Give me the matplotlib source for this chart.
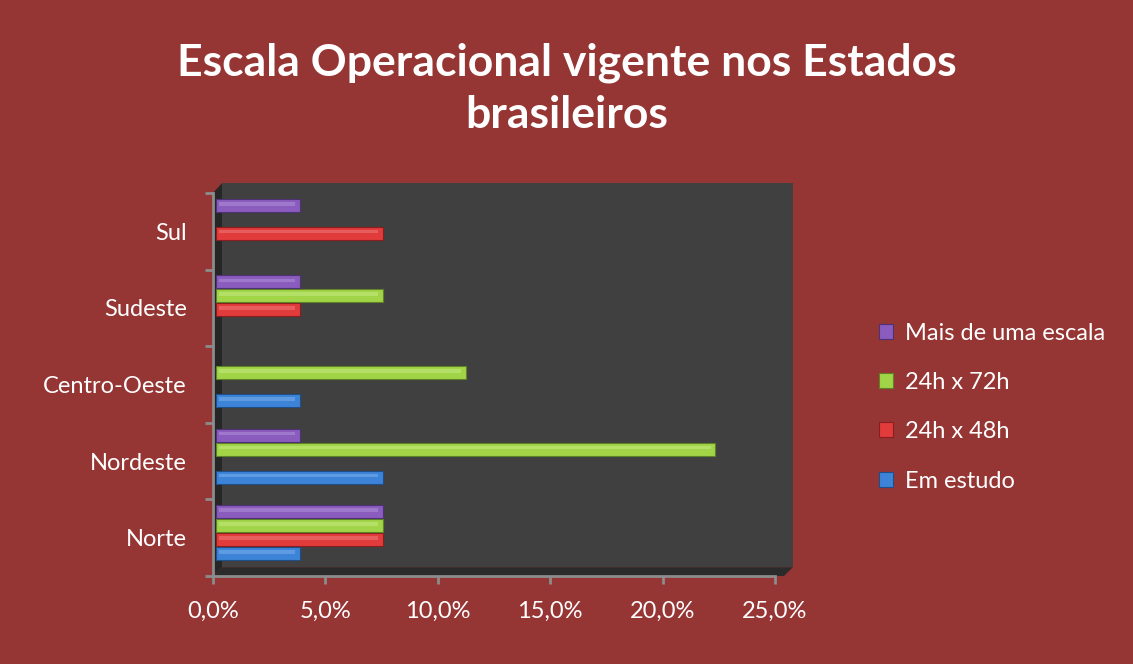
import matplotlib.pyplot as plt
from matplotlib.patches import Polygon
from matplotlib.ticker import FuncFormatter, FixedLocator

# Dados (percentual dos estados)
regioes = ['Norte', 'Nordeste', 'Centro-Oeste', 'Sudeste', 'Sul']
series = ['Em estudo', '24h x 48h', '24h x 72h', 'Mais de uma escala']
em_estudo = [3.7, 7.4, 3.7, 0, 0]
h24x48 = [7.4, 0, 0, 3.7, 7.4]
h24x72 = [7.4, 22.2, 11.1, 7.4, 0]
mais_de_uma = [7.4, 3.7, 0, 3.7, 3.7]
xticks = [0, 5, 10, 15, 20, 25]

valores = [em_estudo, h24x48, h24x72, mais_de_uma]
cores = ['#3d84d8', '#e13b3b', '#a2d448', '#8a5cbd']
bordas = ['#1f4f88', '#8a1e1e', '#5f8226', '#4f3175']
brilho = ['#7fb3ee', '#f08080', '#c8ec86', '#b394d9']

fundo = '#963634'
plt.rcParams['font.family'] = ['Lato', 'DejaVu Sans']

fig = plt.figure(figsize=(11.33, 6.64), dpi=100, facecolor=fundo)
ax = fig.add_axes([0.188, 0.1325, 0.496, 0.577])
ax.set_facecolor('none')

# paredes 3D
dx, dy = 0.016, 0.023
ax.add_patch(Polygon([(dx, dy), (1 + dx * 2, dy), (1 + dx * 2, 1 + dy * 1.1), (dx, 1 + dy * 1.1)],
                     closed=True, transform=ax.transAxes, facecolor='#404040', edgecolor='none',
                     clip_on=False, zorder=0))
ax.add_patch(Polygon([(0, 0), (1 + dx, 0), (1 + dx * 2, dy), (dx, dy)], closed=True,
                     transform=ax.transAxes, facecolor='#2b2b2b', edgecolor='none',
                     clip_on=False, zorder=0))
ax.add_patch(Polygon([(0, 0), (dx, dy), (dx, 1 + dy * 1.1), (0, 1)], closed=True,
                     transform=ax.transAxes, facecolor='#262626', edgecolor='none',
                     clip_on=False, zorder=0))

pos = list(range(len(regioes)))
passo = 0.182
altura = 0.17
offsets = [-1.5 * passo, -0.5 * passo, 0.5 * passo, 1.5 * passo]
desloc = 0.065

handles = []
for k in range(4):
    ys = [p + offsets[k] + desloc for p, v in zip(pos, valores[k]) if v > 0]
    vs = [v for v in valores[k] if v > 0]
    b = ax.barh(ys, vs, height=altura, left=0.15, color=cores[k],
                edgecolor=bordas[k], linewidth=0.8, zorder=3, label=series[k])
    ax.barh([y + altura * 0.12 for y in ys], [v - 0.3 for v in vs],
            height=altura * 0.28, left=0.25, color=brilho[k], alpha=0.5,
            linewidth=0, zorder=4)
    handles.append(b)

ax.set_xlim(0, 25)
ax.set_ylim(-0.5, 4.5)
ax.set_xticks(xticks)
ax.xaxis.set_major_formatter(FuncFormatter(lambda v, p: f'{v:.1f}%'.replace('.', ',')))
ax.yaxis.set_major_locator(FixedLocator([-0.5, 0.5, 1.5, 2.5, 3.5, 4.5]))
ax.yaxis.set_major_formatter(FuncFormatter(lambda v, p: ''))
ax.yaxis.set_minor_locator(FixedLocator(pos))
ax.set_yticklabels(regioes, minor=True)

for s in ['top', 'right']:
    ax.spines[s].set_visible(False)
for s in ['left', 'bottom']:
    ax.spines[s].set_color('#8c8c8c')
    ax.spines[s].set_linewidth(2)
    ax.spines[s].set_zorder(5)

ax.tick_params(axis='x', colors='#8c8c8c', width=2, length=6, pad=12,
               labelcolor='white', labelsize=17)
ax.tick_params(axis='y', which='major', colors='#8c8c8c', width=2, length=6)
ax.tick_params(axis='y', which='minor', length=0, pad=19, labelcolor='white', labelsize=17)

fig.text(0.5, 0.866, 'Escala Operacional vigente nos Estados\nbrasileiros', ha='center',
         va='center', color='white', fontsize=32, fontweight='bold', linespacing=1.35)

leg = fig.legend(handles[::-1], series[::-1], loc='center left', bbox_to_anchor=(0.757, 0.387),
                 frameon=False, fontsize=17, labelcolor='white', handlelength=0.6,
                 handleheight=0.6, handletextpad=0.5, labelspacing=1.2)

fig.savefig('out.png', dpi=100, facecolor=fundo)
